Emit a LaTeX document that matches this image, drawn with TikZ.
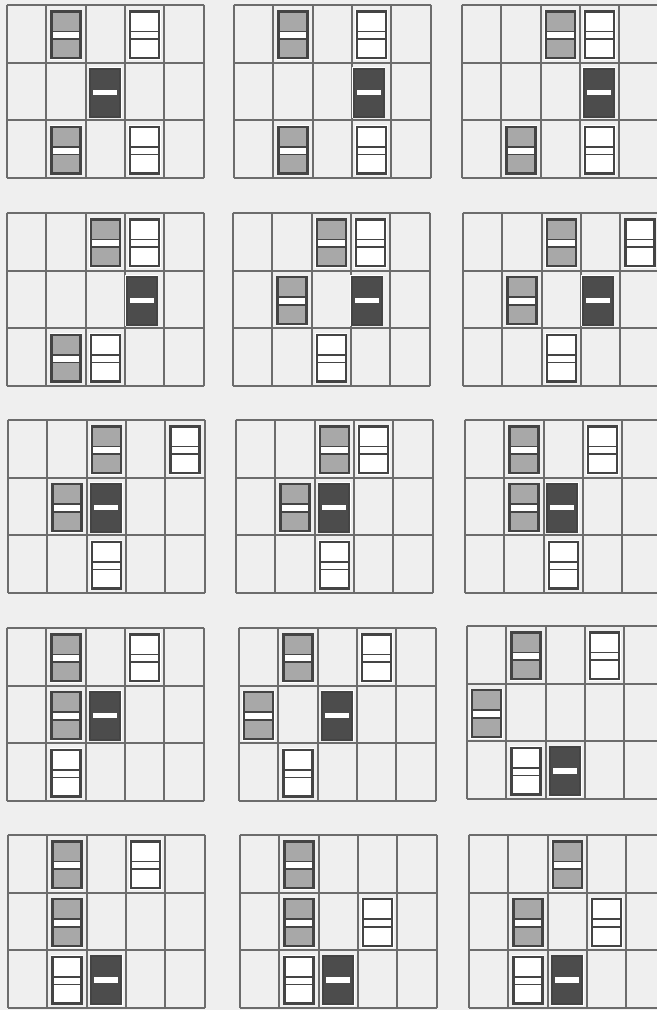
\documentclass[tikz,border=0pt]{standalone}
\definecolor{bg}{HTML}{EFEFEF}
\definecolor{gridc}{HTML}{6C6C6C}
\definecolor{edgec}{HTML}{444444}
\definecolor{dotc}{HTML}{A8A8A8}
\definecolor{darkc}{HTML}{4C4C4C}
\tikzset{
  gridline/.style={draw=gridc, line width=1pt},
  pics/grayblk/.style={code={
    \fill[white] (-16.2,-25) rectangle (16.2,25);
    \fill[white] (-14.5,-23.3) rectangle (14.5,23.3);
    \fill[dotc] (-14.5,-23.3) rectangle (14.5,-3.5);
    \fill[dotc] (-14.5,4.3) rectangle (14.5,23.3);
    \draw[edgec, line width=0.8pt] (-14.5,-3.5) -- (14.5,-3.5) (-14.5,4.3) -- (14.5,4.3);
    \draw[edgec, line width=1.2pt] (-14.5,-23.3) rectangle (14.5,23.3);
  }},
  pics/whiteblk/.style={code={
    \fill[white] (-16.2,-25) rectangle (16.2,25);
    \draw[edgec, line width=0.8pt] (-14.5,-3.5) -- (14.5,-3.5) (-14.5,4.3) -- (14.5,4.3);
    \draw[edgec, line width=1.2pt] (-14.5,-23.3) rectangle (14.5,23.3);
  }},
  pics/darkblk/.style={code={
    \fill[white] (-16.7,-25.7) rectangle (16.7,25.7);
    \fill[darkc, draw=edgec, line width=1pt] (-15,-24) rectangle (15,24);
    \fill[white] (-12,-2.8) rectangle (12,2.8);
  }}
}
\newcommand\drawpanel[5]{%
  \begin{scope}[shift={(#1,#2)}]
    \foreach \i in {0,...,5} \draw[gridline] ({\i*39.3},0) -- ({\i*39.3},173.1);
    \foreach \j in {0,...,3} \draw[gridline] (-0.5,{\j*57.7}) -- (197,{\j*57.7});
    \foreach \c/\r in {#3} \pic at ({(\c-0.5)*39.3},{(\r-0.5)*57.7+1}) {grayblk};
    \foreach \c/\r in {#4} \pic at ({(\c-0.5)*39.3},{(\r-0.5)*57.7+1}) {whiteblk};
    \foreach \c/\r/\dx in {#5} \pic at ({(\c-0.5)*39.3+\dx},{(\r-0.5)*57.7+1}) {darkblk};
  \end{scope}}
\begin{document}
\begin{tikzpicture}[x=0.5pt,y=-0.5pt]
  \useasboundingbox (0,0) rectangle (657,1010);
  \clip (0,0) rectangle (657,1010);
  \fill[bg] (0,0) rectangle (657,1010);
  % row 1
  \drawpanel{7}{5}{2/1,2/3}{4/1,4/3}{3/2/0}
  \drawpanel{234}{5}{2/1,2/3}{4/1,4/3}{4/2/-3}
  \drawpanel{462}{5}{3/1,2/3}{4/1,4/3}{4/2/-1}
  % row 2
  \drawpanel{7}{213}{3/1,2/3}{4/1,3/3}{4/2/-3}
  \drawpanel{233}{213}{3/1,2/2}{4/1,3/3}{4/2/-4}
  \drawpanel{463}{213}{3/1,2/2}{5/1,3/3}{4/2/-3}
  % row 3
  \drawpanel{8}{420}{3/1,2/2}{5/1,3/3}{3/2/0}
  \drawpanel{236}{420}{3/1,2/2}{4/1,3/3}{3/2/0}
  \drawpanel{465}{420}{2/1,2/2}{4/1,3/3}{3/2/-1}
  % row 4
  \drawpanel{7}{628}{2/1,2/2}{4/1,2/3}{3/2/0}
  \drawpanel{239}{628}{2/1,1/2}{4/1,2/3}{3/2/0}
  \drawpanel{467}{626}{2/1,1/2}{4/1,2/3}{3/3/0}
  % row 5
  \drawpanel{8}{835}{2/1,2/2}{4/1,2/3}{3/3/0}
  \drawpanel{240}{835}{2/1,2/2}{4/2,2/3}{3/3/0}
  \drawpanel{469}{835}{3/1,2/2}{4/2,2/3}{3/3/0}
\end{tikzpicture}
\end{document}
